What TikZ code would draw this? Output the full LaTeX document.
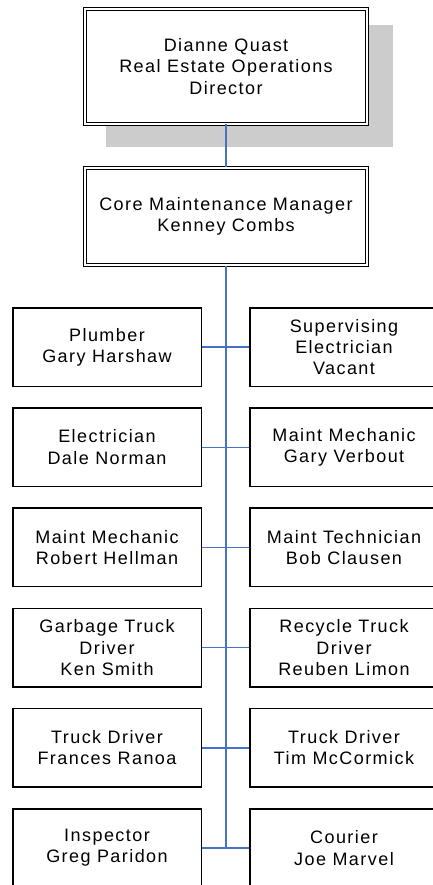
\documentclass[tikz,border=0pt]{standalone}
\usepackage{fontspec}
\setmainfont{Liberation Sans}[LetterSpace=8]
\definecolor{linkblue}{HTML}{4472C4}
\definecolor{shadowgray}{HTML}{CCCCCC}

\begin{document}
\begin{tikzpicture}[x=1pt, y=-1pt,
  every node/.style={font=\fontsize{18}{21.3}\selectfont},
  headbox/.style={draw=black, fill=white, double, double distance=1.6pt, line width=1.4pt, inner sep=0pt, minimum width=281.6pt, align=center},
  staffbox/.style={draw=black, fill=white, line width=1.5pt, inner sep=0pt, minimum width=188.5pt, minimum height=78.5pt, align=center},
  link/.style={draw=linkblue, line width=1.4pt},
  trunk/.style={draw=linkblue, line width=2pt}]
\useasboundingbox (0,0) rectangle (433,885);
% shadow behind the director box
\fill[shadowgray] (106,25) rectangle (393,147);
\node[headbox, minimum height=114.6pt] (director) at (226, 66.5) {Dianne Quast\\Real Estate Operations\\Director};
\node[headbox, minimum height=96.6pt] (manager) at (226, 216.5) {Core Maintenance Manager\\Kenney Combs};
% staff, left column
\node[staffbox] (left1) at (107, 347.0) {Plumber\\Gary Harshaw};
\node[staffbox] (left2) at (107, 447.2) {Electrician\\Dale Norman};
\node[staffbox] (left3) at (107, 547.4) {Maint Mechanic\\Robert Hellman};
\node[staffbox] (left4) at (107, 647.6) {Garbage Truck\\Driver\\Ken Smith};
\node[staffbox] (left5) at (107, 747.8) {Truck Driver\\Frances Ranoa};
\node[staffbox] (left6) at (107, 848.0) {Inspector\\Greg Paridon};
% staff, right column
\node[staffbox] (right1) at (344, 347.0) {Supervising\\Electrician\\Vacant};
\node[staffbox] (right2) at (344, 447.2) {Maint Mechanic\\Gary Verbout};
\node[staffbox] (right3) at (344, 547.4) {Maint Technician\\Bob Clausen};
\node[staffbox] (right4) at (344, 647.6) {Recycle Truck\\Driver\\Reuben Limon};
\node[staffbox] (right5) at (344, 747.8) {Truck Driver\\Tim McCormick};
\node[staffbox] (right6) at (344, 848.0) {Courier\\Joe Marvel};
\coordinate (trunkend) at (226, 848.0);
% connectors
\draw[link] (director) -- (manager);
\draw[trunk] (manager.south) -- (trunkend);
\draw[link] (left1) -- (right1);
\draw[link] (left2) -- (right2);
\draw[link] (left3) -- (right3);
\draw[link] (left4) -- (right4);
\draw[link] (left5) -- (right5);
\draw[link] (left6) -- (right6);
\end{tikzpicture}
\end{document}
